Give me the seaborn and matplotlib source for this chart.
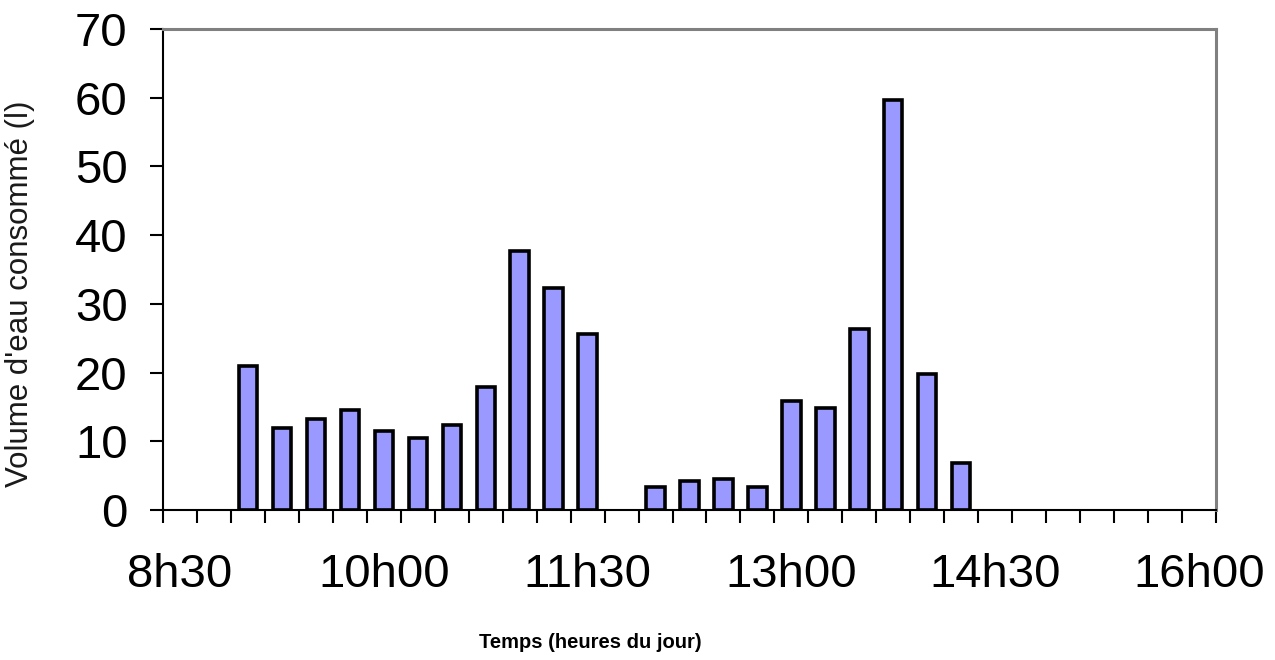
import pandas as pd
import matplotlib.pyplot as plt
import seaborn as sns

# quarter-hour slots on the x axis (category axis, 8h30 -> 16h00)
slots = ['8h30', '8h45', '9h00', '9h15', '9h30', '9h45',
         '10h00', '10h15', '10h30', '10h45', '11h00', '11h15',
         '11h30', '11h45', '12h00', '12h15', '12h30', '12h45',
         '13h00', '13h15', '13h30', '13h45', '14h00', '14h15',
         '14h30', '14h45', '15h00', '15h15', '15h30', '15h45', '16h00']

# measured water volume (l) per slot
bar_times = ['9h00', '9h15', '9h30', '9h45', '10h00', '10h15', '10h30',
             '10h45', '11h00', '11h15', '11h30',
             '12h00', '12h15', '12h30', '12h45', '13h00', '13h15',
             '13h30', '13h45', '14h00', '14h15']
volumes = [21.0, 11.9, 13.2, 14.6, 11.5, 10.5, 12.4,
           17.9, 37.7, 32.3, 25.6,
           3.4, 4.2, 4.5, 3.3, 15.8, 14.8,
           26.4, 59.7, 19.8, 6.8]

shown_labels = ['8h30', '10h00', '11h30', '13h00', '14h30', '16h00']
y_ticks = [0, 10, 20, 30, 40, 50, 60, 70]

df = pd.DataFrame({'heure': bar_times, 'volume': volumes})

sns.set_style('white')
plt.rcParams['font.family'] = ['Liberation Sans', 'DejaVu Sans']

fig = plt.figure(figsize=(12.75, 6.6), dpi=100)
ax = fig.add_axes([163 / 1275, 1 - 510 / 660, (1216 - 163) / 1275, (510 - 29) / 660])

sns.barplot(data=df, x='heure', y='volume', order=slots, color='#9999FF',
            saturation=1, edgecolor='black', linewidth=2.6, width=0.54, ax=ax)

ax.set_xlim(-0.5, len(slots) - 0.5)
ax.set_ylim(0, 70)

# labels every 1h30 centred on their slot, ticks between slots
ax.set_xticks([slots.index(s) for s in shown_labels])
ax.set_xticklabels(shown_labels)
ax.set_xticks([i - 0.5 for i in range(len(slots) + 1)], minor=True)
ax.tick_params(axis='x', which='major', length=0, pad=31, labelsize=34,
               labelcolor='black')
ax.tick_params(axis='x', which='minor', bottom=True, length=9.5, width=1.5,
               color='black', direction='out')

ax.set_yticks(y_ticks)
ax.tick_params(axis='y', which='major', left=True, length=9.5, width=1.5,
               color='black', direction='out', pad=16, labelsize=34,
               labelcolor='black')

for side in ['left', 'bottom']:
    ax.spines[side].set_color('black')
    ax.spines[side].set_linewidth(1.5)
for side in ['top', 'right']:
    ax.spines[side].set_color('#808080')
    ax.spines[side].set_linewidth(2.2)

ax.set_xlabel('')
ax.set_ylabel("Volume d'eau consommé (l)", fontsize=22.5, color='#1a1a1a')
ax.yaxis.set_label_coords(-0.122, 0.45)

fig.text(590 / 1275, 1 - 642 / 660, 'Temps (heures du jour)', fontsize=14.5,
         fontweight='bold', ha='center', va='center', color='black')

plt.savefig('out.png', dpi=100)
plt.close()
